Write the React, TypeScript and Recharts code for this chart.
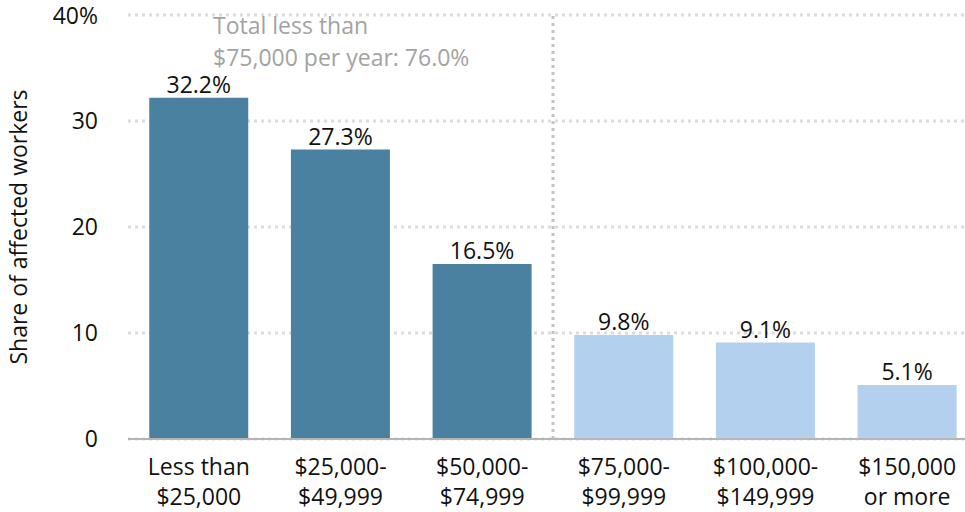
import React from "react";
import {
  BarChart,
  Bar,
  XAxis,
  YAxis,
  CartesianGrid,
  Cell,
  LabelList,
  ReferenceLine,
  Label,
} from "recharts";

const categories = [
  ["Less than", "$25,000"],
  ["$25,000-", "$49,999"],
  ["$50,000-", "$74,999"],
  ["$75,000-", "$99,999"],
  ["$100,000-", "$149,999"],
  ["$150,000", "or more"],
];
const shares = [32.2, 27.3, 16.5, 9.8, 9.1, 5.1];
const yTicks = [0, 10, 20, 30, 40];
const annotationLines = ["Total less than", "$75,000 per year: 76.0%"];

const DARK = "#4a80a0";
const LIGHT = "#b3d1ee";
const FONT = "'Open Sans', Lato, sans-serif";
const FS = 23;

const data = categories.map((c, i) => ({
  key: c.join(" "),
  lines: c,
  value: shares[i],
}));

function XTick(props: any) {
  const { x, y, payload } = props;
  const lines = categories[payload.index] || [];
  return (
    <g transform={`translate(${x},${y})`}>
      {lines.map((l, i) => (
        <text
          key={i}
          x={0}
          y={i * 30}
          dy={28}
          textAnchor="middle"
          fill="#111"
          fontSize={FS}
          fontFamily={FONT}
        >
          {l}
        </text>
      ))}
    </g>
  );
}

function Annotation(props: any) {
  const { viewBox } = props;
  const x0 = viewBox.x - 340;
  return (
    <text fill="#a3a3a3" fontSize={FS} fontFamily={FONT}>
      {annotationLines.map((l, i) => (
        <tspan key={i} x={x0} y={viewBox.y + 19 + i * 32}>
          {l}
        </tspan>
      ))}
    </text>
  );
}

export default function App() {
  return (
    <div
      style={{
        position: "absolute",
        left: 0,
        top: 0,
        width: 965,
        height: 512,
        overflow: "hidden",
        background: "#fff",
        fontFamily: FONT,
      }}
    >
      <BarChart
        width={978}
        height={512}
        data={data}
        margin={{ top: 15, right: 0, left: 0, bottom: 0 }}
        barCategoryGap="15%"
      >
        <CartesianGrid
          vertical={false}
          stroke="#dcdcdc"
          strokeWidth={3}
          strokeDasharray="3 4"
        />
        <XAxis
          dataKey="key"
          height={73}
          tickLine={false}
          axisLine={{ stroke: "#b5b5b5", strokeWidth: 2 }}
          tick={<XTick />}
          interval={0}
        />
        <YAxis
          width={128}
          domain={[0, 40]}
          ticks={yTicks}
          axisLine={false}
          tickLine={false}
          tickSize={0}
          tickMargin={30}
          tick={{ fill: "#111", fontSize: FS, fontFamily: FONT }}
          tickFormatter={(v: number) => (v === 40 ? "40%" : String(v))}
        >
          <Label
            value="Share of affected workers"
            angle={-90}
            position="insideLeft"
            offset={0}
            dx={19}
            style={{ textAnchor: "middle", fill: "#111", fontSize: 23, fontFamily: FONT }}
          />
        </YAxis>
        <ReferenceLine
          x={data[3].key}
          position="start"
          stroke="#c4c4c4"
          strokeWidth={3}
          strokeDasharray="3 4"
        >
          <Label content={<Annotation />} />
        </ReferenceLine>
        <Bar dataKey="value" isAnimationActive={false}>
          {data.map((d, i) => (
            <Cell key={d.key} fill={i < 3 ? DARK : LIGHT} />
          ))}
          <LabelList
            dataKey="value"
            position="top"
            offset={5}
            formatter={(v: number) => `${v.toFixed(1)}%`}
            style={{ fill: "#111", fontSize: FS, fontFamily: FONT }}
          />
        </Bar>
      </BarChart>
    </div>
  );
}
